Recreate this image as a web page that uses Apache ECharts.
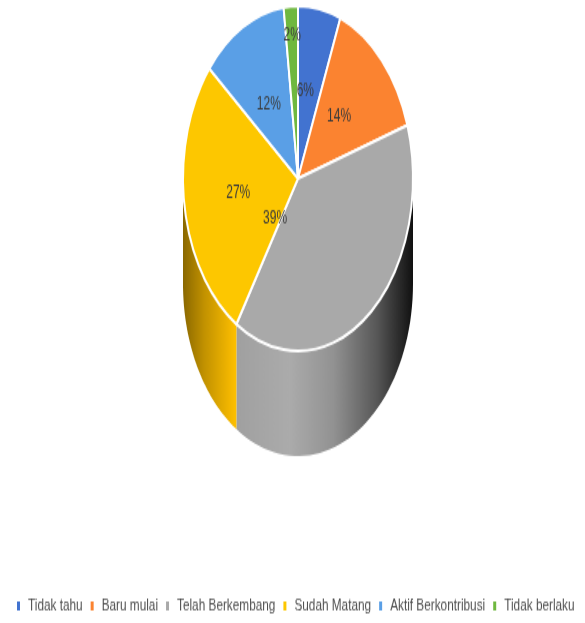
<!DOCTYPE html>
<html>
<head>
<meta charset="utf-8">
<style>
  html, body { margin: 0; padding: 0; background: #fff; overflow: hidden; }
  #stage { width: 585px; height: 623px; overflow: hidden; }
  /* The chart is laid out flat and stretched vertically to give the tilted, tall disc. */
  #chart { width: 585px; height: 415.33px; transform: scaleY(1.5); transform-origin: 0 0; }
</style>
</head>
<body>
<div id="stage"><div id="chart"></div></div>
<script src="https://cdn.jsdelivr.net/npm/echarts@6/dist/echarts.min.js"></script>
<script>
const categories = ['Tidak tahu', 'Baru mulai', 'Telah Berkembang', 'Sudah Matang', 'Aktif Berkontribusi', 'Tidak berlaku'];
const percents = [6, 14, 39, 27, 12, 2];
const colors = ['#4273d0', '#fb8330', '#a9a9a9', '#fdc700', '#5a9fe6', '#6fb83f'];

// Side wall shading, left to right, for the two slices that face the viewer.
const wallShades = {
  2: [[0, '#a0a0a0'], [0.3, '#ababab'], [0.55, '#929292'], [0.8, '#565656'], [1, '#101010']],
  3: [[0, '#8a6800'], [0.4, '#c29200'], [1, '#ffc000']]
};

// Nudges for the labels that sit away from the slice's mid radius.
const labelNudges = { 0: [-4, 1], 1: [-3, 0], 2: [-60, -21], 4: [0, 4], 5: [-2, -35] };

const CX = 298, CY = 119, R = 115, DEPTH = 70;
const total = percents.reduce((a, b) => a + b, 0);

let running = 0;
const wallRows = [];
percents.forEach((v, i) => {
  if (wallShades[i]) wallRows.push([i, running / total, (running + v) / total]);
  running += v;
});

function renderWall(params, api) {
  const i = api.value(0);
  // Angles run clockwise from 12 o'clock; only the lower half of the rim is visible.
  const a0 = Math.max(api.value(1) * 2 * Math.PI, Math.PI / 2);
  const a1 = Math.min(api.value(2) * 2 * Math.PI, Math.PI * 1.5);
  const pts = [];
  const steps = 48;
  for (let s = 0; s <= steps; s++) {
    const a = a0 + (a1 - a0) * s / steps;
    pts.push([CX + R * Math.sin(a), CY - R * Math.cos(a)]);
  }
  for (let s = steps; s >= 0; s--) {
    const a = a0 + (a1 - a0) * s / steps;
    pts.push([CX + R * Math.sin(a), CY - R * Math.cos(a) + DEPTH]);
  }
  const xs = pts.map(p => p[0]);
  const stops = wallShades[i].map(s => ({ offset: s[0], color: s[1] }));
  return {
    type: 'polygon',
    shape: { points: pts },
    style: {
      fill: {
        type: 'linear', global: true,
        x: Math.min(...xs), y: 0, x2: Math.max(...xs), y2: 0,
        colorStops: stops
      }
    }
  };
}

const chart = echarts.init(document.getElementById('chart'), null, { renderer: 'canvas' });
chart.setOption({
  animation: false,
  backgroundColor: '#fff',
  legend: {
    data: categories,
    left: 15,
    top: 398,
    width: 570,
    padding: 0,
    icon: 'rect',
    itemWidth: 5,
    itemHeight: 8,
    itemGap: 6,
    selectedMode: false,
    textStyle: { color: '#505050', fontFamily: 'Liberation Sans', fontSize: 11.8, padding: [0, 0, 0, 2] }
  },
  series: [
    {
      type: 'custom',
      name: 'Sisi',
      coordinateSystem: 'none',
      silent: true,
      z: 1,
      renderItem: renderWall,
      data: wallRows
    },
    {
      type: 'pie',
      name: 'Tingkat',
      z: 2,
      silent: true,
      center: [CX, CY],
      radius: [0, R],
      startAngle: 90,
      clockwise: true,
      avoidLabelOverlap: false,
      itemStyle: { borderColor: '#ffffff', borderWidth: 2 },
      label: {
        show: true,
        position: 'inside',
        formatter: '{c}%',
        color: '#3a3a3a',
        fontFamily: 'Liberation Sans',
        fontSize: 12
      },
      labelLine: { show: false },
      labelLayout: p => {
        const n = labelNudges[p.dataIndex];
        return n ? { dx: n[0], dy: n[1] } : {};
      },
      data: categories.map((name, i) => ({
        name,
        value: percents[i],
        itemStyle: { color: colors[i] }
      }))
    }
  ]
});
</script>
</body>
</html>
